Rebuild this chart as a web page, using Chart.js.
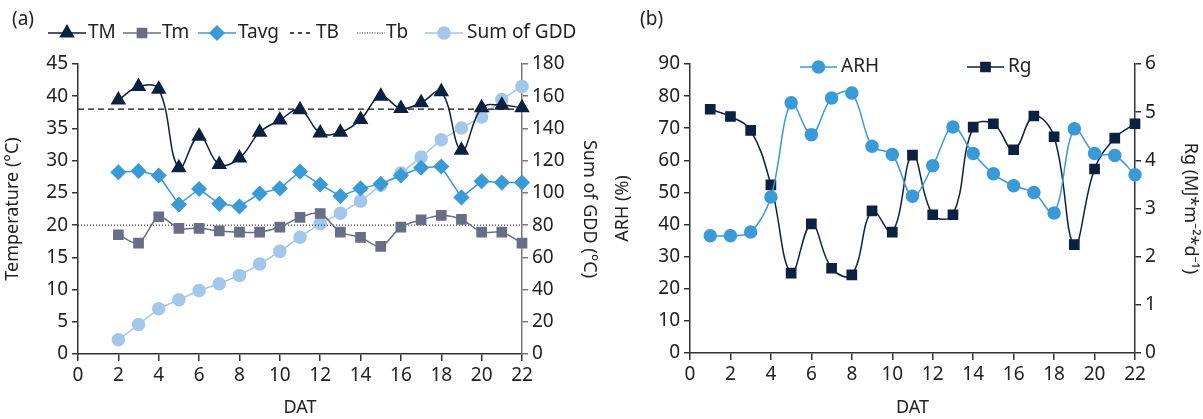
<!DOCTYPE html>
<html>
<head>
<meta charset="utf-8">
<script src="https://cdn.jsdelivr.net/npm/chart.js@4.4.1/dist/chart.umd.min.js"></script>
<style>
body { margin: 0; background: #fff; }
#wrap-a { position: absolute; left: 0; top: 0; width: 600px; height: 419px; }
#wrap-b { position: absolute; left: 600px; top: 0; width: 603px; height: 419px; }
</style>
</head>
<body>
<div id="wrap-a"><canvas id="chart-a"></canvas></div>
<div id="wrap-b"><canvas id="chart-b"></canvas></div>
<script>
// (a) temperatures, days after transplanting 2..22
var datA = [2, 3, 4, 5, 6, 7, 8, 9, 10, 11, 12, 13, 14, 15, 16, 17, 18, 19, 20, 21, 22];
var tMax = [39.4, 41.5, 41.1, 28.9, 33.8, 29.4, 30.4, 34.4, 36.3, 37.9, 34.3, 34.4, 36.4, 40.0, 38.1, 39.0, 40.7, 31.6, 38.2, 38.6, 38.2];
var tMin = [18.5, 17.2, 21.3, 19.5, 19.5, 19.1, 18.9, 18.9, 19.7, 21.2, 21.8, 18.9, 18.1, 16.7, 19.7, 20.8, 21.5, 20.9, 18.9, 18.9, 17.2];
var tAvg = [28.2, 28.4, 27.7, 23.2, 25.6, 23.3, 22.9, 24.9, 25.7, 28.3, 26.3, 24.5, 25.7, 26.4, 27.7, 28.9, 29.1, 24.3, 26.8, 26.6, 26.6];
var sumGdd = [8.8, 18.3, 28.1, 33.7, 39.4, 43.6, 48.8, 55.8, 63.7, 72.5, 81.0, 87.4, 94.9, 104.7, 112.3, 122.2, 133.0, 140.3, 147.1, 157.9, 166.1];
var TB = 38;
var Tb = 20;

// (b) humidity and radiation, days 1..22
var datB = [1, 2, 3, 4, 5, 6, 7, 8, 9, 10, 11, 12, 13, 14, 15, 16, 17, 18, 19, 20, 21, 22];
var arh = [36.5, 36.5, 37.7, 48.6, 77.9, 68.0, 79.4, 81.0, 64.4, 61.8, 48.8, 58.3, 70.4, 62.1, 55.8, 52.1, 50.0, 43.6, 69.8, 62.1, 61.5, 55.5];
var rg = [5.06, 4.91, 4.62, 3.49, 1.66, 2.68, 1.76, 1.62, 2.95, 2.51, 4.11, 2.87, 2.87, 4.69, 4.76, 4.22, 4.92, 4.49, 2.25, 3.82, 4.46, 4.76];

Chart.defaults.font.family = '"Noto Sans", sans-serif';
Chart.defaults.color = '#222';

var navy = '#0c2142';
var slate = '#696e86';
var blue = '#3a9ad8';
var pale = '#a3c7ea';

function pts(xs, ys) {
  return xs.map(function (x, i) { return { x: x, y: ys[i] }; });
}

function fixW(w) { return function (s) { s.width = w; }; }
function fixH(h) { return function (s) { s.height = h; }; }

function axisY(pos, min, max, step, width, title, pad, lineColor) {
  return {
    type: 'linear', position: pos, min: min, max: max,
    ticks: { stepSize: step, padding: 4, font: { size: 19 } },
    grid: { drawOnChartArea: false, tickLength: 6, color: lineColor, lineWidth: 1.5 },
    border: { display: true, color: lineColor, width: 1.5 },
    title: { display: true, text: title, font: { size: 18 }, padding: { top: pad, bottom: 0 } },
    afterFit: fixW(width)
  };
}

function axisX(height) {
  return {
    type: 'linear', min: 0, max: 22,
    ticks: { stepSize: 2, padding: 3, font: { size: 19 } },
    grid: { drawOnChartArea: false, tickLength: 7, color: '#333', lineWidth: 1.5 },
    border: { display: true, color: '#333', width: 1.5 },
    title: { display: true, text: 'DAT', font: { size: 18 }, padding: { top: 0, bottom: 0 } },
    afterFit: fixH(height)
  };
}

// hand-drawn legend with line + marker, like the original figure
var legendPlugin = {
  id: 'figLegend',
  afterDraw: function (chart, args, opts) {
    var ctx = chart.ctx;
    ctx.save();
    ctx.font = '19px "Noto Sans"';
    ctx.textBaseline = 'middle';
    ctx.fillStyle = '#222';
    ctx.fillText(opts.tag, opts.tagX, opts.tagY);
    opts.items.forEach(function (it) {
      var ds = chart.data.datasets[it.ds];
      var y = opts.y;
      ctx.strokeStyle = ds.borderColor;
      ctx.lineWidth = it.lw || 1.5;
      ctx.setLineDash(it.dash || []);
      ctx.beginPath();
      ctx.moveTo(it.x1, y);
      ctx.lineTo(it.x2, y);
      ctx.stroke();
      ctx.setLineDash([]);
      if (ds.pointStyle) {
        ctx.fillStyle = ds.pointBackgroundColor;
        ctx.strokeStyle = ds.pointBackgroundColor;
        Chart.helpers.drawPoint(ctx, { pointStyle: ds.pointStyle, radius: ds.pointRadius, borderWidth: 1, rotation: 0 }, (it.x1 + it.x2) / 2, y);
      }
      ctx.fillStyle = '#222';
      ctx.fillText(ds.label, it.tx, y);
    });
    ctx.restore();
  }
};

new Chart(document.getElementById('chart-a').getContext('2d'), {
  type: 'line',
  data: {
    datasets: [
      {
        label: 'TM', data: pts(datA, tMax), yAxisID: 'y',
        borderColor: navy, borderWidth: 1.5, tension: 0.4,
        pointStyle: 'triangle', pointRadius: 7.5, pointBackgroundColor: navy, pointBorderColor: navy, clip: false
      },
      {
        label: 'Tm', data: pts(datA, tMin), yAxisID: 'y',
        borderColor: slate, borderWidth: 1.5, tension: 0.3,
        pointStyle: 'rect', pointRadius: 6.5, pointBackgroundColor: slate, pointBorderColor: slate, clip: false
      },
      {
        label: 'Tavg', data: pts(datA, tAvg), yAxisID: 'y',
        borderColor: blue, borderWidth: 1.5, tension: 0,
        pointStyle: 'rectRot', pointRadius: 7, pointBackgroundColor: blue, pointBorderColor: blue, clip: false
      },
      {
        label: 'TB', data: [{ x: 0, y: TB }, { x: 22, y: TB }], yAxisID: 'y',
        borderColor: '#111', borderWidth: 1.3, borderDash: [6, 4], pointRadius: 0
      },
      {
        label: 'Tb', data: [{ x: 0, y: Tb }, { x: 22, y: Tb }], yAxisID: 'y',
        borderColor: '#111', borderWidth: 1, borderDash: [1, 2], pointRadius: 0
      },
      {
        label: 'Sum of GDD', data: pts(datA, sumGdd), yAxisID: 'y1',
        borderColor: pale, borderWidth: 1.5, tension: 0,
        pointStyle: 'circle', pointRadius: 6, pointBackgroundColor: pale, pointBorderColor: pale, clip: false
      }
    ]
  },
  options: {
    responsive: true, maintainAspectRatio: false, animation: false,
    layout: { padding: { top: 64, left: 0, right: 0, bottom: 0 } },
    plugins: {
      legend: { display: false }, tooltip: { enabled: false },
      figLegend: {
        tag: '(a)', tagX: 12, tagY: 20, y: 33,
        items: [
          { ds: 0, x1: 48, x2: 86, tx: 88 },
          { ds: 1, x1: 123, x2: 161, tx: 162 },
          { ds: 2, x1: 198, x2: 236, tx: 238 },
          { ds: 3, x1: 290, x2: 314, tx: 316, dash: [4, 4] },
          { ds: 4, x1: 357, x2: 385, tx: 386, dash: [1, 1.5], lw: 1 },
          { ds: 5, x1: 425, x2: 463, tx: 467 }
        ]
      }
    },
    scales: {
      x: axisX(65),
      y: axisY('left', 0, 45, 5, 78, 'Temperature (°C)', 2, '#333'),
      y1: axisY('right', 0, 180, 20, 78, 'Sum of GDD (°C)', 0, '#777')
    }
  },
  plugins: [legendPlugin]
});

new Chart(document.getElementById('chart-b').getContext('2d'), {
  type: 'line',
  data: {
    datasets: [
      {
        label: 'ARH', data: pts(datB, arh), yAxisID: 'y',
        borderColor: blue, borderWidth: 1.5, tension: 0.35,
        pointStyle: 'circle', pointRadius: 6, pointBackgroundColor: blue, pointBorderColor: blue, clip: false
      },
      {
        label: 'Rg', data: pts(datB, rg), yAxisID: 'y1',
        borderColor: navy, borderWidth: 1.5, tension: 0.4,
        pointStyle: 'rect', pointRadius: 6.5, pointBackgroundColor: navy, pointBorderColor: navy, clip: false
      }
    ]
  },
  options: {
    responsive: true, maintainAspectRatio: false, animation: false,
    layout: { padding: { top: 64, left: 0, right: 0, bottom: 0 } },
    plugins: {
      legend: { display: false }, tooltip: { enabled: false },
      figLegend: {
        tag: '(b)', tagX: 40, tagY: 20, y: 67,
        items: [
          { ds: 0, x1: 200, x2: 237, tx: 241 },
          { ds: 1, x1: 367, x2: 404, tx: 408 }
        ]
      }
    },
    scales: {
      x: axisX(66),
      y: axisY('left', 0, 90, 10, 90, 'ARH (%)', 12, '#333'),
      y1: axisY('right', 0, 6, 1, 68, 'Rg (MJ*m⁻²*d⁻¹)', 2, '#333')
    }
  },
  plugins: [legendPlugin]
});
</script>
</body>
</html>
